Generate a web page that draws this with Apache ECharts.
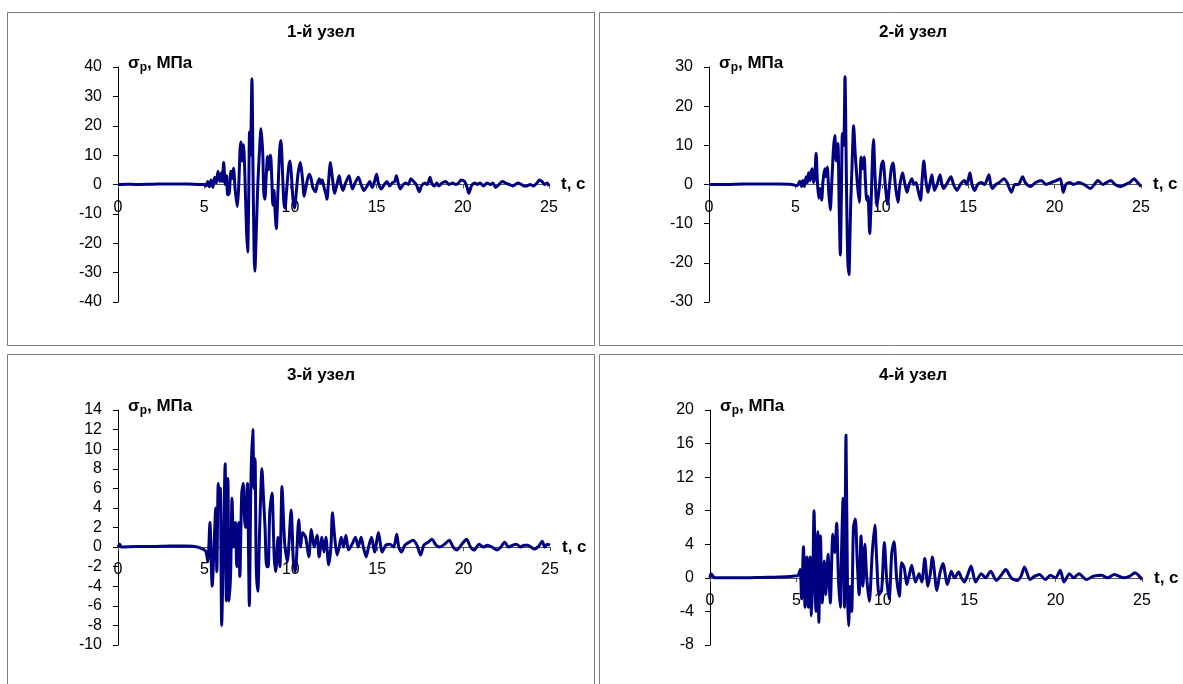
<!DOCTYPE html>
<html><head><meta charset="utf-8">
<script src="https://cdn.jsdelivr.net/npm/echarts@6/dist/echarts.min.js"></script>
<style>html,body{margin:0;padding:0;background:#fff}#c{width:1183px;height:684px}</style>
</head><body><div id="c"></div>
<script>
// Panel titles
const titles = ['1-й узел', '2-й узел', '3-й узел', '4-й узел'];
// Y-axis ranges [min, max, interval]
const yRanges = [[-40, 40, 10], [-30, 30, 10], [-10, 14, 2], [-8, 20, 4]];
// X-axis range [min, max, interval]
const xRange = [0, 25, 5];

// σp (MPa) vs t (s)
const node1 = [[0,0],[0.5,0.1],[1,0],[2,0.1],[3,0.2],[4,0.2],[4.8,0],[5.0,0],[5.1,-0.5],[5.2,1],[5.3,-0.8],[5.4,1.5],[5.5,-1],[5.6,2.5],[5.7,0.5],[5.8,4.5],[5.9,1],[6.0,4],[6.05,1],[6.13,7.5],[6.22,0],[6.3,3],[6.36,-3.5],[6.45,-3],[6.55,4.5],[6.62,2],[6.7,5.5],[6.8,-2],[6.92,-7.5],[7.0,-1],[7.08,12],[7.13,14.5],[7.2,8],[7.28,13.5],[7.35,5],[7.45,-15],[7.52,-23],[7.58,-5],[7.63,18],[7.68,10],[7.77,36],[7.83,5],[7.9,-25],[7.94,-29.5],[8.0,-20],[8.08,-5],[8.15,5],[8.3,19],[8.4,10],[8.45,-2],[8.52,-5],[8.6,3],[8.67,9.5],[8.74,5],[8.8,9],[8.85,10],[8.92,2],[8.98,-7],[9.05,-2],[9.1,-8],[9.18,-15],[9.28,-2],[9.38,12],[9.45,15],[9.55,3],[9.62,-6],[9.69,-8],[9.78,-2],[9.9,6],[9.98,8],[10.05,4],[10.15,-5],[10.24,-8],[10.35,-2],[10.45,4],[10.58,7.5],[10.7,2],[10.8,-4],[10.9,-1],[11.0,2],[11.1,3.5],[11.2,2],[11.3,-1],[11.46,-2.5],[11.55,0],[11.68,2],[11.75,0.5],[11.85,1.5],[11.95,-1],[12.05,-3],[12.12,-5],[12.2,0],[12.32,7.5],[12.42,3],[12.57,-3],[12.7,0],[12.83,3],[12.93,0],[13.05,-2],[13.2,0.5],[13.4,3],[13.5,0.5],[13.6,-1.5],[13.75,0.5],[13.94,2.5],[14.1,0],[14.27,-2],[14.45,-0.5],[14.6,1],[14.75,-1],[14.88,1],[15.0,3.5],[15.1,0.5],[15.27,-1.5],[15.45,0],[15.6,1],[15.75,-0.5],[15.9,0.5],[16.05,1],[16.15,3],[16.25,0.5],[16.37,-1.5],[16.55,0],[16.7,0.5],[16.85,0],[16.99,2],[17.15,1],[17.3,0],[17.48,-2.5],[17.6,-0.5],[17.8,0.5],[17.95,0],[18.1,2.5],[18.2,0.5],[18.35,-0.5],[18.5,0.5],[18.6,-0.5],[18.8,0.5],[19.0,1],[19.2,0],[19.4,0.5],[19.6,0],[19.75,0.5],[19.9,1.5],[20.1,1],[20.25,-1],[20.35,-3],[20.5,-0.5],[20.7,0.5],[20.85,0],[21.0,0.5],[21.2,-0.5],[21.4,0.5],[21.6,0],[21.75,0.5],[21.9,-1],[22.1,0],[22.3,1],[22.5,0.5],[22.7,0],[22.9,-0.5],[23.05,0],[23.2,0.5],[23.4,0],[23.55,-0.5],[23.7,-0.5],[23.9,0],[24.1,-0.5],[24.3,0.5],[24.45,1.5],[24.6,1],[24.75,0],[24.9,0.5],[25.0,-0.5]];

const node2 = [[0,0],[1,0],[2,0.1],[3,0.1],[4,0.1],[4.8,0],[5.1,-0.3],[5.25,0.8],[5.35,-0.5],[5.43,1],[5.52,-0.5],[5.62,2],[5.7,0.5],[5.76,3],[5.85,1],[5.92,3.5],[5.98,4],[6.05,0.5],[6.12,2],[6.2,8],[6.27,1],[6.35,-3.5],[6.43,-1],[6.52,-4],[6.6,1],[6.7,4],[6.77,2],[6.85,4.5],[6.93,-2],[7.02,-6.5],[7.1,0],[7.2,9],[7.28,12.5],[7.36,6],[7.46,10.5],[7.53,-5],[7.6,-18],[7.66,-3],[7.72,13],[7.8,10],[7.87,27.5],[7.95,2],[8.02,-18],[8.1,-23],[8.15,-15],[8.2,-5],[8.28,5],[8.37,15],[8.46,8],[8.59,0],[8.7,-4.5],[8.75,2],[8.8,7],[8.88,4],[8.98,7],[9.05,1],[9.13,-4],[9.2,-3],[9.3,-12.5],[9.4,-2],[9.47,8],[9.52,11.5],[9.6,3],[9.72,-5.5],[9.85,-1],[9.98,5],[10.07,6],[10.2,0],[10.33,-5],[10.45,0],[10.55,4],[10.65,5.5],[10.78,0],[10.93,-4.5],[11.05,0],[11.2,3],[11.32,0.5],[11.46,-2],[11.58,0],[11.74,1.5],[11.85,0],[11.98,0.5],[12.1,-1.5],[12.24,-4],[12.33,1],[12.43,6],[12.55,1],[12.67,-2],[12.8,0.5],[12.9,2.5],[13.04,-1.5],[13.2,0],[13.37,2.5],[13.48,0],[13.59,-1],[13.8,0.5],[14.0,2],[14.15,0],[14.35,-1.5],[14.55,0],[14.78,1],[14.92,0],[15.1,3],[15.22,0],[15.37,-1.5],[15.55,0],[15.76,0.5],[15.95,0],[16.2,2.5],[16.3,0],[16.4,-1],[16.6,0],[16.8,0.5],[17.07,1.5],[17.25,0.5],[17.5,-2],[17.7,0],[17.9,0],[18.15,2],[18.3,0.5],[18.6,-0.5],[18.9,0.5],[19.24,1],[19.5,0],[19.8,0.5],[20.1,1],[20.33,1.5],[20.5,-2],[20.65,0],[20.87,0.5],[21.1,0],[21.4,0.5],[21.7,0],[22.07,-1],[22.3,0],[22.5,1],[22.8,0],[23.0,0.5],[23.26,1],[23.5,0],[23.8,-0.5],[24.1,0],[24.35,0.5],[24.6,1.5],[24.8,0.5],[25,-0.5]];

const node3 = [[0,0],[0.1,0.3],[0.2,0],[1,0.05],[2,0.05],[3,0.1],[4,0.1],[4.6,0],[5.0,-0.3],[5.1,-0.5],[5.2,-1.5],[5.32,2.5],[5.45,-4],[5.58,1],[5.65,4],[5.72,-2.5],[5.8,6.5],[5.86,5],[5.92,6],[6.0,-8],[6.1,0],[6.2,8.5],[6.27,-5.5],[6.36,7],[6.43,-5.5],[6.52,-2.5],[6.6,5],[6.69,0],[6.8,2.5],[6.87,-2],[6.98,2.5],[7.05,-3],[7.16,5.5],[7.25,6.5],[7.32,3],[7.38,2],[7.49,6.5],[7.6,-6],[7.69,6.5],[7.8,12],[7.87,6],[7.93,9],[8.0,-2],[8.09,-4.5],[8.2,2],[8.33,8],[8.42,5],[8.51,2],[8.6,-2],[8.69,-2],[8.78,3.5],[8.91,5.5],[9.04,-1],[9.13,-2.5],[9.26,1],[9.37,-2],[9.49,6.2],[9.64,0.5],[9.8,-1.5],[10.02,3.8],[10.15,-1.5],[10.26,-2.5],[10.46,2.8],[10.57,0],[10.68,1.5],[10.86,1],[11.04,-1],[11.19,1.8],[11.35,0],[11.52,1.2],[11.64,-1],[11.8,1],[11.92,-0.5],[12.03,1],[12.19,-1.8],[12.32,0],[12.41,3.5],[12.54,1],[12.68,-0.8],[12.8,0],[12.92,1],[13.05,0],[13.19,1.2],[13.34,-0.3],[13.55,0.3],[13.74,1],[13.9,0],[14.07,1],[14.2,0],[14.36,-1],[14.5,0],[14.67,1],[14.85,-0.5],[15.07,1.5],[15.29,-0.5],[15.5,0.2],[15.73,0.3],[15.95,0],[16.13,1.3],[16.25,0],[16.4,-0.5],[16.6,0.2],[16.85,0.5],[17.07,0.7],[17.3,0.2],[17.51,-0.8],[17.7,0.2],[17.95,0.5],[18.17,0.8],[18.4,0.2],[18.6,0],[18.9,0.3],[19.17,0.7],[19.4,0],[19.61,-0.3],[19.9,0.3],[20.17,0.8],[20.4,0],[20.61,-0.3],[20.9,0.3],[21.15,0],[21.38,0.2],[21.65,0],[21.94,-0.3],[22.15,0],[22.38,0.5],[22.6,0],[22.85,0.2],[23.05,0.3],[23.3,0],[23.5,0.2],[23.72,0.2],[23.9,0],[24.1,-0.2],[24.35,0.1],[24.55,0.6],[24.7,0],[24.85,0.3],[25,0.2]];

const node4 = [[0,0],[0.05,0.5],[0.15,0.3],[0.25,0],[1,0],[2,0],[3,0.05],[4,0.1],[4.8,0.2],[5.1,0.3],[5.22,1],[5.3,-2.5],[5.41,3.7],[5.5,-3.5],[5.61,2.5],[5.7,-3.5],[5.8,2.5],[5.87,-4.5],[5.95,0],[6.02,8],[6.13,-4],[6.24,5.5],[6.3,-5.3],[6.39,5],[6.5,-3],[6.61,2],[6.7,-2],[6.83,2.8],[6.96,-3],[7.11,5.2],[7.22,3],[7.33,6.5],[7.43,0],[7.54,-3.5],[7.61,3],[7.7,9.5],[7.78,-3.5],[7.87,17],[7.96,-2],[8.02,-5.7],[8.11,-1],[8.2,-4],[8.3,6],[8.41,7],[8.52,2],[8.63,-2],[8.74,5],[8.85,-1],[8.96,4],[9.07,0],[9.22,-2.8],[9.39,3],[9.54,6.3],[9.65,2],[9.78,-2],[9.93,-1.5],[10.09,4.2],[10.22,0],[10.37,-2.5],[10.52,3],[10.65,4.3],[10.8,0],[10.96,-2.2],[11.09,1.8],[11.24,1.2],[11.39,-0.8],[11.55,0.5],[11.67,1.5],[11.89,-0.5],[12.1,0.5],[12.26,-0.5],[12.43,2.3],[12.61,-1],[12.75,0.5],[12.87,2.5],[13.13,-1.5],[13.3,0.5],[13.48,1.7],[13.74,-0.8],[13.96,0.8],[14.15,0],[14.39,0.7],[14.55,0],[14.72,-0.5],[14.9,0.3],[15.11,1.4],[15.37,-0.5],[15.7,0.5],[15.95,0],[16.24,0.8],[16.57,-0.3],[16.85,0.3],[17.11,1],[17.43,0],[17.76,-0.3],[18.0,0.2],[18.2,1.3],[18.52,-0.2],[18.8,0.2],[19.07,0.4],[19.4,-0.2],[19.7,0.3],[20.0,0],[20.27,0.9],[20.49,-0.5],[20.8,0.5],[21.05,0],[21.35,0.5],[21.78,-0.2],[22.2,0.2],[22.65,0.3],[23.0,0],[23.4,0.4],[23.95,0],[24.3,0.2],[24.6,0.6],[24.8,0.3],[25,-0.2]];

const nodes = [node1, node2, node3, node4];

// layout (pixels)
const grids = [
  {left: 118, top: 67, width: 431, height: 235},
  {left: 709, top: 67, width: 432, height: 235},
  {left: 118, top: 410, width: 432, height: 235},
  {left: 710, top: 410, width: 432, height: 235}
];
const panels = [
  {x: 7.5, y: 12.5, w: 587, h: 333},
  {x: 599.5, y: 12.5, w: 600, h: 333},
  {x: 7.5, y: 354.5, w: 587, h: 345},
  {x: 599.5, y: 354.5, w: 600, h: 345}
];
const titleX = [321, 913, 321, 913];
const FONT = "'Liberation Sans', Arial, sans-serif";

const chart = echarts.init(document.getElementById('c'), null, {renderer: 'canvas'});
const graphic = [];
panels.forEach(p => graphic.push({type: 'rect', silent: true, z: -1,
  shape: {x: p.x, y: p.y, width: p.w, height: p.h},
  style: {fill: '#fff', stroke: '#7a7a7a', lineWidth: 1}}));
titles.forEach((t, i) => {
  graphic.push({type: 'text', x: titleX[i], y: grids[i].top - 35,
    style: {text: t, font: 'bold 17px ' + FONT, fill: '#000', align: 'center', verticalAlign: 'middle'}});
});

const option = {
  animation: false,
  backgroundColor: '#fff',
  graphic: graphic,
  grid: grids.map(g => Object.assign({containLabel: false}, g)),
  xAxis: grids.map((g, i) => ({
    type: 'value', gridIndex: i, min: xRange[0], max: xRange[1], interval: xRange[2],
    // put the whole x axis (line + labels) at y = 0 of its grid
    offset: -g.height * (0 - yRanges[i][0]) / (yRanges[i][1] - yRanges[i][0]),
    name: 't, c', nameLocation: 'end', nameGap: 12,
    nameTextStyle: {fontFamily: FONT, fontSize: 17, fontWeight: 'bold', color: '#000',
      verticalAlign: 'middle', align: 'left', padding: [0, 0, 12, 0]},
    axisLine: {onZero: false, lineStyle: {color: '#555', width: 1}},
    axisTick: {show: true, inside: false, length: 4, lineStyle: {color: '#555'}},
    axisLabel: {fontFamily: FONT, fontSize: 16, color: '#000', margin: 15},
    splitLine: {show: false}
  })),
  yAxis: grids.map((g, i) => ({
    type: 'value', gridIndex: i, min: yRanges[i][0], max: yRanges[i][1], interval: yRanges[i][2],
    name: '{s|σ}{sub|p}{s|, МПа}', nameLocation: 'end', nameGap: 4,
    nameTextStyle: {align: 'left', verticalAlign: 'middle', padding: [0, 0, 0, 10],
      rich: {
        s: {fontFamily: FONT, fontSize: 17, fontWeight: 'bold', color: '#000', lineHeight: 22, verticalAlign: 'middle'},
        sub: {fontFamily: FONT, fontSize: 12, fontWeight: 'bold', color: '#000', lineHeight: 22, verticalAlign: 'bottom'}
      }},
    axisLine: {show: true, onZero: false, lineStyle: {color: '#000', width: 1}},
    axisTick: {show: true, inside: false, length: 5, lineStyle: {color: '#000'}},
    axisLabel: {fontFamily: FONT, fontSize: 16, color: '#000', margin: 16},
    splitLine: {show: false}
  })),
  series: nodes.map((d, i) => ({
    type: 'line', xAxisIndex: i, yAxisIndex: i, data: d, showSymbol: false, smooth: 0.25,
    lineStyle: {color: '#000080', width: 3, join: 'round'}, z: 3
  }))
};
chart.setOption(option);
</script></body></html>
